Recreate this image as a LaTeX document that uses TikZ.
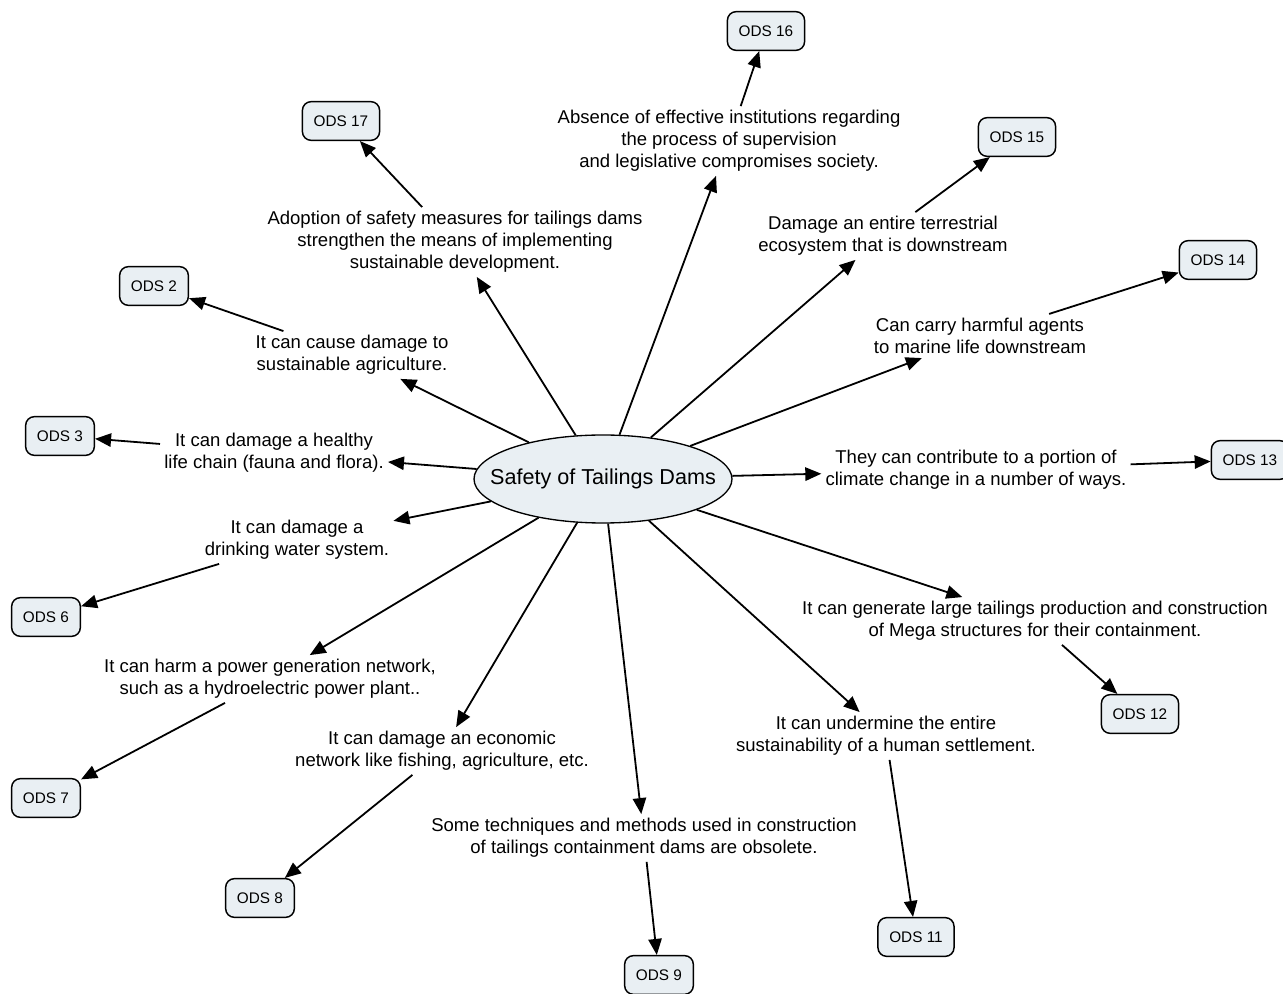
\documentclass[tikz,border=0pt]{standalone}
\usepackage{fontspec}
\setmainfont{Liberation Sans}
\usetikzlibrary{shapes.geometric,arrows.meta}
\definecolor{boxfill}{HTML}{E9EFF3}
\begin{document}
\begin{tikzpicture}[x=0.75pt,y=-0.75pt,
  ods/.style={draw, rounded corners=6.5pt, fill=boxfill, line width=1.1pt, minimum height=29pt, inner xsep=8.5pt, font=\fontsize{11.5}{13}\selectfont},
  txt/.style={align=center, inner sep=3pt, font=\fontsize{13.9}{16.5}\selectfont},
  arr/.style={-{Triangle[length=12pt,width=10pt]}, line width=1.35pt}]
\useasboundingbox (0,0) rectangle (1283,994);
\node[ellipse, draw, fill=boxfill, minimum width=193.5pt, minimum height=66pt, inner sep=0pt, line width=1pt] (c) at (603,479) {};
\node[font=\fontsize{16.2}{19}\selectfont] (ctext) at (c.center) {Safety of Tailings Dams};

% ODS boxes
\node[ods] (o16) at (766,31) {ODS 16};
\node[ods] (o17) at (341,121) {ODS 17};
\node[ods] (o15) at (1017,137) {ODS 15};
\node[ods] (o14) at (1218,260) {ODS 14};
\node[ods] (o2) at (154,286) {ODS 2};
\node[ods] (o3) at (60,436) {ODS 3};
\node[ods] (o13) at (1250,460) {ODS 13};
\node[ods] (o6) at (46,617) {ODS 6};
\node[ods] (o7) at (46,798) {ODS 7};
\node[ods] (o12) at (1140,714) {ODS 12};
\node[ods] (o8) at (260,898) {ODS 8};
\node[ods] (o11) at (916,937) {ODS 11};
\node[ods] (o9) at (659,975) {ODS 9};

% text nodes
\node[txt] (t16) at (729,141) {Absence of effective institutions regarding\\the process of supervision\\and legislative compromises society.};
\node[txt] (t17) at (455,242) {Adoption of safety measures for tailings dams\\strengthen the means of implementing\\sustainable development.};
\node[txt] (t15) at (883,236) {Damage an entire terrestrial\\ecosystem that is downstream};
\node[txt] (t14) at (980,336) {Can carry harmful agents\\to marine life downstream};
\node[txt] (t2) at (352,355) {It can cause damage to\\sustainable agriculture.};
\node[txt] (t3) at (274,453) {It can damage a healthy\\life chain (fauna and flora).};
\node[txt] (t13) at (976,470) {They can contribute to a portion of\\climate change in a number of ways.};
\node[txt] (t6) at (297,540) {It can damage a\\drinking water system.};
\node[txt] (t12) at (1035,621) {It can generate large tailings production and construction\\of Mega structures for their containment.};
\node[txt] (t7) at (270,679) {It can harm a power generation network,\\such as a hydroelectric power plant..};
\node[txt] (t11) at (886,736) {It can undermine the entire\\sustainability of a human settlement.};
\node[txt] (t8) at (442,751) {It can damage an economic\\network like fishing, agriculture, etc.};
\node[txt] (t9) at (644,838) {Some techniques and methods used in construction\\of tailings containment dams are obsolete.};

% connectors
\foreach \t/\o in {t16/o16,t17/o17,t15/o15,t14/o14,t2/o2,t3/o3,t13/o13,t6/o6,t12/o12,t7/o7,t11/o11,t8/o8,t9/o9}{
  \draw[arr] (c) -- (\t);
  \draw[arr] (\t) -- (\o);
}
\end{tikzpicture}
\end{document}
